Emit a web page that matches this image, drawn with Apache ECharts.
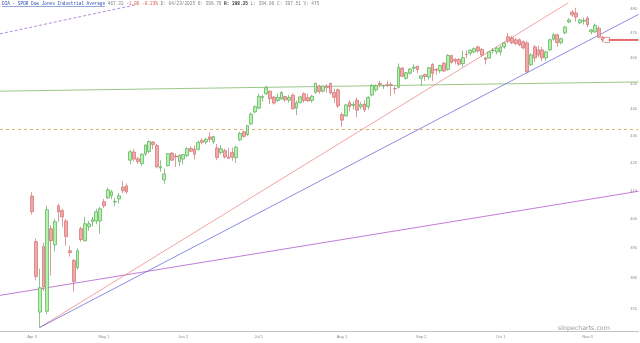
<!DOCTYPE html>
<html>
<head>
<meta charset="utf-8">
<script src="https://cdn.jsdelivr.net/npm/echarts@6/dist/echarts.min.js"></script>
<style>html,body{margin:0;padding:0;background:#fff;}#c{width:640px;height:343px;}</style>
</head>
<body>
<div id="c"></div>
<script>
// ---- trading days (Apr 3 2025 .. Nov 7 2025) ----
const monthDays = [
  ['Apr', [3,4,7,8,9,10,11,14,15,16,17,21,22,23,24,25,28,29,30]],
  ['May', [1,2,5,6,7,8,9,12,13,14,15,16,19,20,21,22,23,27,28,29,30]],
  ['Jun', [2,3,4,5,6,9,10,11,12,13,16,17,18,20,23,24,25,26,27,30]],
  ['Jul', [1,2,3,7,8,9,10,11,14,15,16,17,18,21,22,23,24,25,28,29,30,31]],
  ['Aug', [1,4,5,6,7,8,11,12,13,14,15,18,19,20,21,22,25,26,27,28,29]],
  ['Sep', [2,3,4,5,8,9,10,11,12,15,16,17,18,19,22,23,24,25,26,29,30]],
  ['Oct', [1,2,3,6,7,8,9,10,13,14,15,16,17,20,21,22,23,24,27,28,29,30,31]],
  ['Nov', [3,4,5,6,7]]
];
const xTickLabels = ['Apr 3','May 1','Jun 2','Jul 1','Aug 1','Sep 2','Oct 1','Nov 3'];
const yTickLabels = [370,380,390,400,410,420,430,440,450,460,470,480];

const opens = [
408.1,392.3,369.0,390.6,369.3,396.7,391.2,404.7,403.0,399.4,
389.2,385.9,383.5,396.7,392.6,397.4,399.1,399.4,399.4,406.1,
407.5,408.2,406.0,407.1,411.3,411.7,421.0,424.0,421.5,419.8,
423.3,424.2,427.7,426.4,418.2,413.9,419.0,423.6,422.5,420.5,
421.4,422.7,425.3,425.0,425.0,428.2,427.7,429.6,427.8,425.5,
423.8,424.5,422.2,423.8,421.9,428.5,431.5,430.5,434.5,439.0,
440.5,444.5,446.0,447.0,444.7,443.4,444.0,444.9,443.5,445.5,
440.5,442.6,446.0,444.5,443.4,446.5,449.0,447.0,449.0,450.0,
446.5,447.5,438.0,437.5,442.6,441.5,443.5,441.0,442.0,441.0,
445.5,447.5,450.0,449.0,449.5,449.5,448.0,448.5,456.0,452.0,
454.0,456.0,456.8,452.0,453.5,452.5,457.5,455.5,455.0,458.0,
455.5,461.0,459.5,459.5,457.8,461.5,462.0,462.5,464.5,463.5,
460.0,460.0,463.0,462.5,462.5,464.5,468.6,468.2,467.4,467.4,
466.6,466.1,457.4,464.5,463.3,463.3,460.1,463.3,467.6,469.4,
466.2,470.2,474.7,478.8,478.4,474.3,475.0,476.3,470.6,470.6,
472.1,468.4
];
const highs = [
409.5,393.3,383.2,391.9,404.7,398.0,400.1,405.4,403.6,400.1,
390.9,386.5,389.9,397.4,400.8,399.4,400.8,403.6,404.3,407.1,
411.0,410.3,407.5,409.2,413.5,412.6,424.7,425.1,422.3,423.5,
426.8,428.2,428.0,427.0,421.0,418.0,423.6,424.0,423.5,423.2,
423.3,425.8,426.1,426.4,428.2,429.0,429.3,431.3,430.0,427.0,
426.5,425.2,425.5,425.6,426.3,431.5,432.0,434.0,438.8,441.5,
446.0,445.5,449.1,447.3,445.0,446.0,447.0,445.2,445.5,446.0,
443.3,445.1,446.5,446.0,445.6,450.3,449.5,449.2,449.7,450.4,
448.0,448.0,438.8,442.0,443.5,443.0,444.5,442.8,443.5,445.0,
449.9,449.6,451.0,449.5,451.0,450.5,449.0,457.9,456.5,454.5,
456.0,457.5,457.0,453.0,453.8,456.5,458.0,456.0,457.3,458.5,
461.5,461.3,460.0,460.0,463.0,463.0,463.5,464.3,465.0,464.0,
460.5,462.8,464.0,464.5,465.0,466.6,470.2,469.0,468.0,467.9,
467.2,467.0,462.0,465.3,465.0,464.5,463.0,467.8,470.2,469.9,
468.2,473.0,476.2,479.6,480.5,476.0,476.4,477.0,471.8,474.0,
473.0,469.0
];
const lows = [
401.6,379.3,364.1,375.9,368.3,380.9,388.9,399.1,397.4,390.9,
387.2,375.6,382.9,392.3,392.3,396.0,397.4,398.2,395.0,403.9,
407.0,407.0,404.5,405.5,409.2,408.9,419.5,420.5,419.6,418.9,
422.5,423.5,425.0,418.0,416.8,412.5,418.8,420.7,418.5,418.8,
419.5,422.1,423.9,421.3,424.5,426.8,426.8,427.5,427.0,421.0,
423.0,421.6,421.5,420.8,420.0,428.0,429.3,430.0,434.0,438.5,
440.0,443.0,445.5,442.0,441.8,442.9,443.5,442.8,442.5,440.0,
437.8,442.3,442.5,443.0,442.5,446.0,446.0,446.5,446.5,445.8,
442.5,440.5,433.4,437.2,439.2,440.0,437.0,440.0,439.0,440.0,
445.0,446.8,448.5,447.8,448.5,445.0,446.0,448.0,452.5,451.5,
453.5,454.5,454.0,449.0,451.0,451.5,451.0,453.5,454.0,454.5,
455.0,457.8,457.5,457.0,456.5,460.0,461.0,462.0,462.0,460.5,
457.5,459.8,462.0,461.5,461.0,463.8,466.0,465.6,465.2,464.8,
463.5,453.8,456.8,458.5,460.5,458.8,459.0,463.0,467.0,464.5,
465.5,469.6,474.2,476.8,474.8,473.8,473.6,472.5,469.6,470.2,
468.0,466.4
];
const closes = [
402.6,380.6,376.9,377.2,403.3,392.6,399.1,402.6,400.8,394.0,
388.6,378.9,389.2,393.0,398.4,398.4,399.8,402.6,403.6,404.7,
410.3,409.6,406.2,408.2,410.0,409.6,424.1,421.4,420.5,423.2,
426.6,427.9,426.8,418.6,418.6,416.0,423.4,421.0,422.2,422.7,
423.1,425.2,424.3,423.2,427.6,427.6,428.7,428.7,429.7,422.0,
425.2,422.2,421.7,422.1,425.8,430.9,429.8,433.9,438.2,441.0,
445.0,444.9,448.3,444.1,442.4,444.6,446.5,443.7,444.6,440.2,
442.5,444.8,443.4,443.2,445.0,450.1,446.9,449.0,448.4,446.3,
444.6,441.3,435.9,441.7,441.1,441.9,439.7,441.8,439.8,444.6,
449.2,449.1,449.5,449.1,449.2,449.4,447.9,456.3,452.8,454.2,
455.7,456.4,455.5,453.0,452.7,456.2,454.0,455.2,457.1,454.9,
461.1,458.3,458.8,457.6,460.2,461.4,463.2,463.8,462.9,461.2,
459.5,462.5,463.2,464.0,464.4,466.1,466.8,466.1,465.8,465.3,
464.1,454.6,461.3,460.1,461.3,460.1,462.5,467.4,469.4,466.2,
467.8,472.6,475.5,477.6,476.7,475.5,475.3,473.5,471.4,473.3,
468.4,467.32
];

// drawn annotation lines: [trading-day index (Apr 3 = 0), price]
const trendRed     = [[2, 364.1], [141.9, 482.6]];
const trendBlue    = [[2, 364.1], [160.5, 477.8]];
const trendPurple  = [[-8.5, 374.4], [160.5, 409.8]];
const dashPurple   = [[-8.5, 469.8], [27.2, 481.7]];
const levelGreen   = [[-8.5, 447.0], [160.5, 450.6]];
const levelDashed  = [[-8.5, 432.4], [160.5, 432.4]];
const lastPrice = 467.32;
const priceLine = [[152.3, lastPrice], [160.5, lastPrice]];
const priceMarker = [[151.9, lastPrice]];

// ---- build ----
const dates = [];
monthDays.forEach(([m, days]) => days.forEach(d => dates.push(m + ' ' + d)));
const LEAD = 8, TRAIL = 9;
const cats = [];
for (let k = 0; k < LEAD; k++) cats.push('_a' + k);
dates.forEach(d => cats.push(d));
for (let k = 0; k < TRAIL; k++) cats.push('_b' + k);
const candleData = dates.map((d, i) => [i + LEAD, opens[i], closes[i], lows[i], highs[i]]);
const labelSet = new Set(xTickLabels);

function lineSeries(data, color, width, type) {
  return {
    type: 'line', xAxisIndex: 1, yAxisIndex: 0, data: data,
    showSymbol: false, symbol: 'none', silent: true, animation: false,
    lineStyle: { color: color, width: width, type: type || 'solid' }, z: 3
  };
}

const chart = echarts.init(document.getElementById('c'), null, { renderer: 'canvas' });
chart.setOption({
  animation: false,
  backgroundColor: '#ffffff',
  grid: { left: 0, right: 1.2, top: 0, bottom: 12, containLabel: false },
  xAxis: [
    {
      type: 'category', data: cats, boundaryGap: true,
      axisLine: { show: true, lineStyle: { color: '#c4c4c4', width: 1 } },
      axisTick: { show: false },
      splitLine: { show: false },
      axisLabel: {
        interval: (idx, val) => labelSet.has(val),
        fontSize: 4, color: '#8a8a8a', margin: 4, fontFamily: 'Liberation Sans'
      }
    },
    { type: 'value', min: -LEAD - 0.5, max: dates.length + TRAIL - 0.5, show: false }
  ],
  yAxis: {
    type: 'log', logBase: 10, min: 363.0, max: 483.8, position: 'right',
    axisLine: { show: false }, axisTick: { show: false }, splitLine: { show: false },
    axisLabel: {
      inside: true, customValues: yTickLabels, formatter: v => String(Math.round(v)),
      fontSize: 4, color: '#8a8a8a', margin: 1.5, fontFamily: 'Liberation Sans'
    }
  },
  series: [
    lineSeries(levelDashed, '#d9a85e', 0.9, [3, 3]),
    lineSeries(levelGreen, '#8fc27c', 0.9),
    lineSeries(trendPurple, '#b25ccb', 0.8),
    lineSeries(dashPurple, '#a070d4', 0.8, [3, 2]),
    lineSeries(trendRed, '#f08a8a', 0.8),
    lineSeries(trendBlue, '#6d6ddc', 0.8),
    {
      type: 'candlestick', xAxisIndex: 0, yAxisIndex: 0,
      dimensions: ['x', 'open', 'close', 'lowest', 'highest'],
      encode: { x: 0, y: [1, 2, 3, 4] },
      data: candleData, barWidth: 3.3, z: 4,
      itemStyle: {
        color: '#b3f2a9', color0: '#f5a6a6',
        borderColor: '#5aab5a', borderColor0: '#cd7171', borderWidth: 0.7
      }
    },
    lineSeries(priceLine, '#e36a6a', 2),
    {
      type: 'scatter', xAxisIndex: 1, yAxisIndex: 0, data: priceMarker, silent: true, z: 6,
      symbol: 'path://M0,5 L4,0 L12,0 L12,10 L4,10 Z', symbolSize: [7, 5],
      itemStyle: { color: '#ffffff', borderColor: '#d65c5c', borderWidth: 0.8 }
    }
  ],
  graphic: [
    {
      type: 'text', left: 2, top: 1.5, silent: true, z: 10,
      style: {
        text: '{t|DIA - SPDR Dow Jones Industrial Average} {g|467.32} {r|-1.06 -0.23%} {g|D: 04/23/2025 O: 396.76} {b|H: 398.35} {g|L: 394.06 C: 397.51 V: 475}',
        fontFamily: 'Liberation Mono', fontSize: 4.42,
        rich: {
          t: { fill: '#2f4fb5', fontFamily: 'Liberation Mono', fontSize: 4.42 },
          g: { fill: '#808080', fontFamily: 'Liberation Mono', fontSize: 4.42 },
          r: { fill: '#e05555', fontFamily: 'Liberation Mono', fontSize: 4.42 },
          b: { fill: '#333333', fontFamily: 'Liberation Mono', fontSize: 4.42, fontWeight: 'bold' }
        }
      }
    },
    {
      type: 'line', silent: true, z: 10,
      shape: { x1: 2, y1: 6.5, x2: 105, y2: 6.5 },
      style: { stroke: '#2f4fb5', lineWidth: 0.5 }
    },
    {
      type: 'text', left: 558, top: 325, silent: true, z: 10,
      style: { text: 'slopecharts.com', fontFamily: 'DejaVu Sans', fontSize: 6.3, fill: '#9a9a9a' }
    }
  ]
});
</script>
</body>
</html>
